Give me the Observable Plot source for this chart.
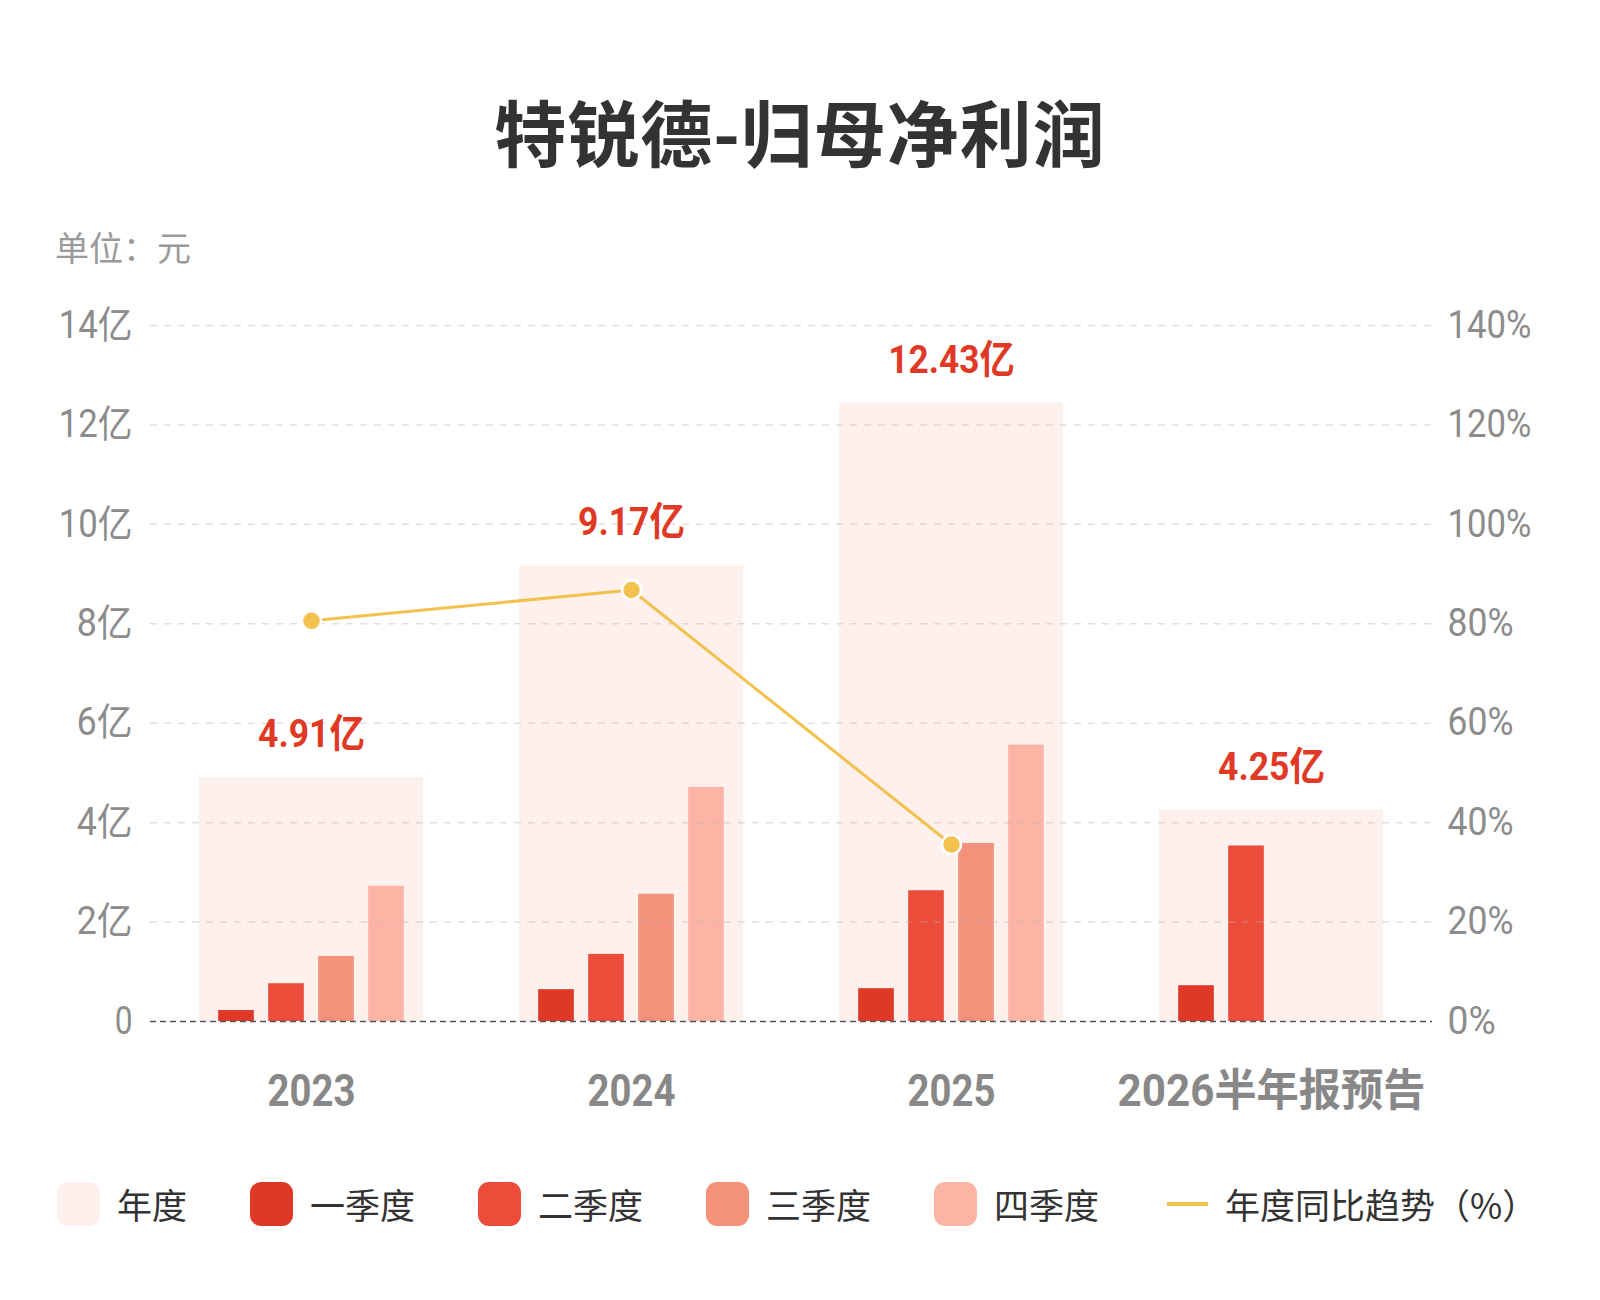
<!DOCTYPE html>
<html>
<head>
<meta charset="utf-8">
<script src="https://cdn.jsdelivr.net/npm/d3@7"></script>
<script src="https://cdn.jsdelivr.net/npm/@observablehq/plot@0.6"></script>
<style>
  html, body { margin: 0; padding: 0; background: #fff; }
  #page { position: relative; width: 1600px; height: 1300px; background: #fff; font-family: "Noto Sans CJK SC", "Noto Sans", sans-serif; }
  #title { position: absolute; left: 0; width: 1600px; top: 89px; text-align: center; font-size: 72px; font-weight: 700; color: #333; line-height: 82px; letter-spacing: 1px; }
  #unit { position: absolute; left: 55px; top: 225px; font-size: 34px; color: #9a9a9a; line-height: 44px; }
  #chart { position: absolute; left: 0; top: 280px; }
  #legend { position: absolute; left: 57px; top: 1182px; display: flex; align-items: center; height: 44px; }
  .item { display: flex; align-items: center; margin-right: 63px; }
  .item:last-child { margin-right: 0; margin-left: 5px; }
  .sw { width: 43px; height: 44px; border-radius: 11px; margin-right: 17px; }
  .ln { width: 41px; height: 4px; margin-right: 17px; }
  .lab { font-size: 35px; color: #333; line-height: 44px; white-space: nowrap; }
</style>
</head>
<body>
<div id="page">
  <div id="title">特锐德-归母净利润</div>
  <div id="unit">单位：元</div>
  <div id="chart"></div>
  <div id="legend"></div>
</div>
<script>
// ---- data (单位: 亿元 / %) ----
const years = ["2023", "2024", "2025", "2026半年报预告"];
const annual = [4.91, 9.17, 12.43, 4.25];
const q1 = [0.22, 0.64, 0.66, 0.72];
const q2 = [0.76, 1.35, 2.63, 3.53];
const q3 = [1.31, 2.56, 3.58, null];
const q4 = [2.72, 4.71, 5.56, null];
const yoy = [80.6, 86.8, 35.6, null];
const yTicks = [0, 2, 4, 6, 8, 10, 12, 14];
const seriesNames = ["年度", "一季度", "二季度", "三季度", "四季度"];
const lineName = "年度同比趋势（%）";

// ---- styles ----
const annualColor = "#FEF0EC";
const quarterColors = ["#E03826", "#EC4D3B", "#F3917A", "#FCB5A5"];
const lineColor = "#F2C14E";
const labelRed = "#E03A26";
const numFont = "Roboto, 'Noto Sans CJK SC', sans-serif";

const rows = years.map((year, i) => ({year, annual: annual[i], q: [q1[i], q2[i], q3[i], q4[i]], yoy: yoy[i]}));

const W = 1600, H = 860, mL = 150, mR = 168, mT = 45, mB = 119;
const xOpts = {domain: years, paddingInner: 0.3, paddingOuter: 0.15};
const xs = Plot.scale({x: {...xOpts, type: "band", range: [mL, W - mR]}});
const bw = xs.bandwidth;
const slot = 50, barW = 36;

const quarterMarks = quarterColors.map((c, qi) => {
  const left = bw / 2 + (qi - 1.5) * slot - barW / 2;
  return Plot.barY(rows.filter(d => d.q[qi] != null), {
    x: "year", y: d => d.q[qi], fill: c,
    insetLeft: left, insetRight: bw - left - barW
  });
});

const yoyRows = rows.filter(d => d.yoy != null);

const chart = Plot.plot({
  width: W, height: H,
  marginLeft: mL, marginRight: mR, marginTop: mT, marginBottom: mB,
  style: {fontFamily: numFont, background: "transparent", overflow: "visible"},
  x: {...xOpts, axis: null},
  y: {domain: [0, 14], axis: null},
  marks: [
    Plot.barY(rows, {x: "year", y: "annual", fill: annualColor}),
    ...quarterMarks,
    Plot.gridY(yTicks.filter(t => t > 0), {stroke: "#b8b0b0", strokeOpacity: 0.4, strokeWidth: 1.5, strokeDasharray: "7,7"}),
    Plot.ruleY([0], {stroke: "#555", strokeWidth: 1.5, strokeDasharray: "6,4"}),
    Plot.line(yoyRows, {x: "year", y: d => d.yoy / 10, stroke: lineColor, strokeWidth: 3}),
    Plot.dot(yoyRows, {x: "year", y: d => d.yoy / 10, r: 9.5, fill: lineColor, stroke: "#fff", strokeWidth: 2.5}),
    Plot.text(rows, {x: "year", y: "annual", text: d => d.annual.toFixed(2) + "亿", dy: -43, fill: labelRed, fontSize: 39, fontWeight: "bold"}),
    Plot.axisY({ticks: yTicks, label: null, tickSize: 0, tickPadding: 18, tickFormat: d => d === 0 ? "0" : d + "亿", fontSize: 38, color: "#8c8c8c"}),
    Plot.axisY({anchor: "right", label: null, ticks: yTicks, tickSize: 0, tickPadding: 15, tickFormat: d => (d * 10) + "%", fontSize: 38, color: "#8c8c8c"}),
    Plot.axisX({label: null, tickSize: 0, tickPadding: 53, fontSize: 44, fontWeight: "bold", color: "#888"})
  ]
});
document.getElementById("chart").appendChild(chart);

// narrow the numeric lettering to the condensed look of the reference (text stays real text)
chart.querySelectorAll("text").forEach(t => {
  const s = t.textContent;
  if (!s) return;
  const fs = parseFloat(getComputedStyle(t).fontSize);
  const bold = /bold|700/.test(getComputedStyle(t).fontWeight);
  let em = 0;
  for (const ch of s) {
    if (/[0-9]/.test(ch)) em += bold ? 0.5 : 0.47;
    else if (ch === ".") em += 0.24;
    else if (ch === "%") em += 0.8;
    else em += 1.0;
  }
  const nat = t.getComputedTextLength();
  if (!nat) return;
  const k = Math.min(1, (em * fs) / nat);
  let tr = t.getAttribute("transform") || "";
  const xa = t.getAttribute("x");
  if (xa != null && xa !== "" && !isNaN(parseFloat(xa))) {
    tr = `translate(${parseFloat(xa)},0) ` + tr;
    t.removeAttribute("x");
  }
  t.setAttribute("transform", (tr + ` scale(${k.toFixed(4)},1)`).trim());
});

// ---- legend ----
const legend = document.getElementById("legend");
const swColors = [annualColor, ...quarterColors];
seriesNames.forEach((n, i) => {
  const it = document.createElement("div");
  it.className = "item";
  it.innerHTML = `<div class="sw" style="background:${swColors[i]}"></div><div class="lab">${n}</div>`;
  legend.appendChild(it);
});
const li = document.createElement("div");
li.className = "item";
li.innerHTML = `<div class="ln" style="background:${lineColor}"></div><div class="lab">${lineName}</div>`;
legend.appendChild(li);
</script>
</body>
</html>
